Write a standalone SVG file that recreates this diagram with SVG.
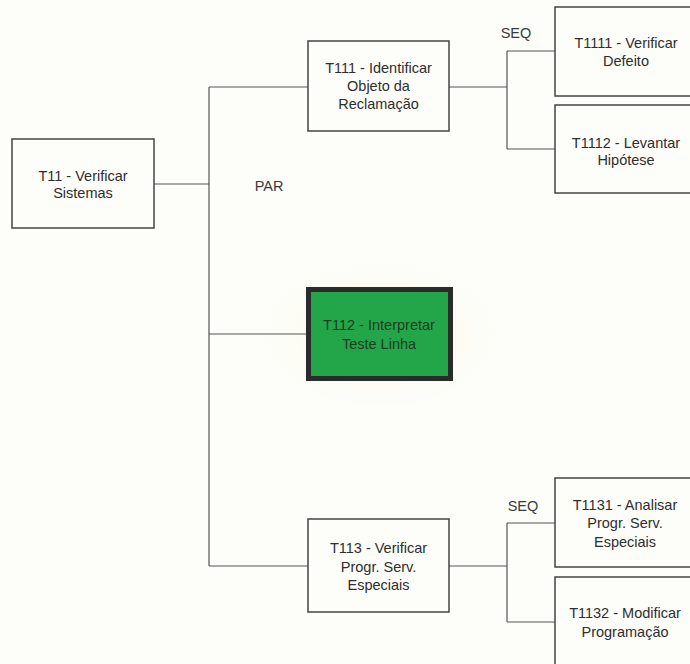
<svg xmlns="http://www.w3.org/2000/svg" width="690" height="664" viewBox="0 0 690 664">
<defs>
<radialGradient id="glow" cx="0.5" cy="0.5" r="0.5">
<stop offset="0" stop-color="#fbf7d8" stop-opacity="1"/>
<stop offset="1" stop-color="#fcfcf6" stop-opacity="0"/>
</radialGradient>
</defs>
<style>
.box{fill:#fdfdfa;stroke:#444;stroke-width:1.5}
.t{font-family:"Liberation Sans",Arial,sans-serif;font-size:14.5px;fill:#2e2e2e;text-anchor:middle}
.lbl{font-family:"Liberation Sans",Arial,sans-serif;font-size:14.5px;fill:#3a3a3a;text-anchor:middle}
.c{fill:none;stroke:#555;stroke-width:1.2}
</style>
<rect x="0" y="0" width="690" height="664" fill="#fdfdf9"/>
<ellipse cx="380" cy="334" rx="130" ry="80" fill="url(#glow)"/>
<g id="connectors">
<path class="c" d="M154 184H209M209 87V566M209 87H308M209 334H306M209 566H308"/>
<path class="c" d="M449 87H507M507 51V149M507 51H555M507 149H555"/>
<path class="c" d="M449 566H507M507 523V622M507 523H555M507 622H555"/>
</g>
<g id="T11"><rect class="box" x="12" y="139" width="142" height="89"/>
<text class="t" x="83" y="181">T11 - Verificar</text><text class="t" x="83" y="198">Sistemas</text></g>
<g id="T111"><rect class="box" x="308" y="41" width="141" height="90"/>
<text class="t" x="378.5" y="73">T111 - Identificar</text><text class="t" x="378.5" y="91">Objeto da</text><text class="t" x="378.5" y="109">Reclamação</text></g>
<g id="T1111"><rect class="box" x="555" y="7" width="142" height="89"/>
<text class="t" x="626" y="48">T1111 - Verificar</text><text class="t" x="626" y="66">Defeito</text></g>
<g id="T1112"><rect class="box" x="555" y="105" width="142" height="88"/>
<text class="t" x="626" y="148">T1112 - Levantar</text><text class="t" x="626" y="165">Hipótese</text></g>
<g id="T112"><rect x="308.5" y="289.5" width="142" height="89" fill="#23a64a" stroke="#2b2b2b" stroke-width="5"/>
<text class="t" x="379" y="330" style="fill:#1c3d20">T112 - Interpretar</text><text class="t" x="379" y="349" style="fill:#1c3d20">Teste Linha</text></g>
<g id="T113"><rect class="box" x="308" y="519" width="141" height="93"/>
<text class="t" x="378.5" y="553">T113 - Verificar</text><text class="t" x="378.5" y="572">Progr. Serv.</text><text class="t" x="378.5" y="590">Especiais</text></g>
<g id="T1131"><rect class="box" x="555" y="478" width="142" height="89"/>
<text class="t" x="625" y="510">T1131 - Analisar</text><text class="t" x="625" y="528">Progr. Serv.</text><text class="t" x="625" y="547">Especiais</text></g>
<g id="T1132"><rect class="box" x="555" y="577" width="142" height="93"/>
<text class="t" x="625" y="618">T1132 - Modificar</text><text class="t" x="625" y="637">Programação</text></g>
<g id="labels">
<text class="lbl" x="516" y="38">SEQ</text>
<text class="lbl" x="269" y="191">PAR</text>
<text class="lbl" x="523" y="511">SEQ</text>
</g>
</svg>
